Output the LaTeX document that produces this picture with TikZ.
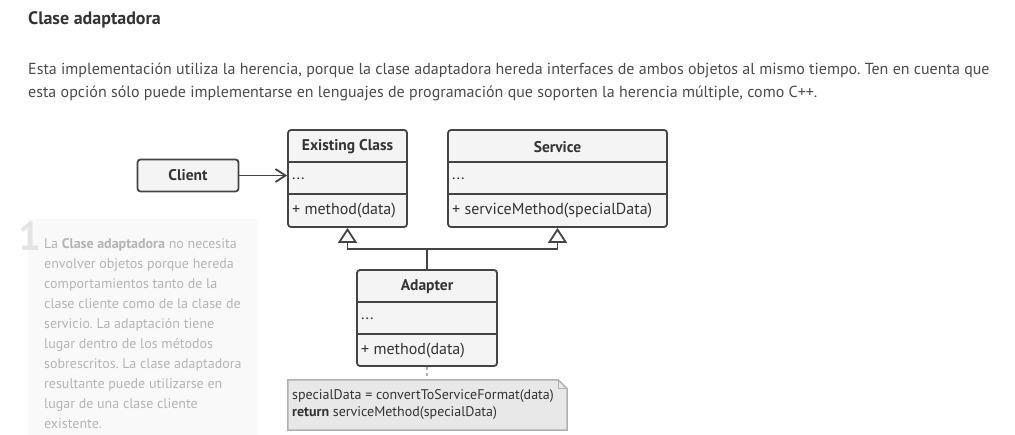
\documentclass[tikz,border=0pt]{standalone}
\usepackage{fontspec}
\setmainfont{PT Sans}
\usetikzlibrary{arrows.meta}
\frenchspacing

\definecolor{inkdark}{HTML}{333333}
\definecolor{inkbody}{HTML}{4A4A4A}
\definecolor{boxline}{HTML}{444444}
\definecolor{boxfill}{HTML}{F4F4F4}
\definecolor{sidebg}{HTML}{F9F9F9}
\definecolor{sideink}{HTML}{B4B4B4}
\definecolor{numink}{HTML}{E4E4E4}
\definecolor{notefill}{HTML}{E8E8E8}
\definecolor{noteline}{HTML}{B0B0B0}

\tikzset{
    classbox/.style={draw=boxline, fill=boxfill, line width=1.8pt, rounded corners=3pt, inner sep=0pt},
    divider/.style={draw=boxline, line width=1.8pt},
    classname/.style={font=\fontsize{15.5}{18}\selectfont\bfseries, text=inkdark, inner sep=0pt},
    member/.style={font=\fontsize{16}{18}\selectfont, text=inkdark, anchor=west, inner sep=0pt},
    assoc/.style={draw=boxline, line width=1.8pt, -{Straight Barb[length=10pt,width=13pt]}},
    inherit/.style={draw=boxline, line width=1.8pt, -{Triangle[open,length=15pt,width=19pt]}},
    notelink/.style={draw=noteline, line width=1.5pt, dash pattern=on 3pt off 3pt},
}

\begin{document}
\begin{tikzpicture}[x=1pt,y=-1pt]
    \useasboundingbox (0,0) rectangle (1015,435);

    % Heading and intro
    \node[anchor=west, inner sep=0pt, text=inkdark, font=\fontsize{18}{20}\selectfont\bfseries] (title) at (28,20) {Clase adaptadora};
    \node[anchor=west, inner sep=0pt, text=inkbody, align=left, font=\fontsize{16}{23}\selectfont] (intro) at (28,81.5)
        {Esta implementación utiliza la herencia, porque la clase adaptadora hereda interfaces de ambos objetos al mismo tiempo. Ten en cuenta que\\
         esta opción sólo puede implementarse en lenguajes de programación que soporten la herencia múltiple, como C++.};

    % Side note
    \fill[sidebg] (28,219) rectangle (258,435);
    \node[anchor=north west, inner sep=0pt, text=numink, font=\fontsize{40}{40}\selectfont\bfseries] (num) at (18,222) {1};
    \node[anchor=north west, inner sep=0pt, text=sideink, align=left, font=\fontsize{14}{20}\selectfont] (sidenote) at (44,238)
        {La \textbf{Clase adaptadora} no necesita\\
         envolver objetos porque hereda\\
         comportamientos tanto de la\\
         clase cliente como de la clase de\\
         servicio. La adaptación tiene\\
         lugar dentro de los métodos\\
         sobrescritos. La clase adaptadora\\
         resultante puede utilizarse en\\
         lugar de una clase cliente\\
         existente.};

    % Client
    \node[classbox, minimum width=101pt, minimum height=32pt] (client) at (188,175.5) {};
    \node[classname] (client-name) at (client) {Client};

    % Existing Class
    \node[classbox, minimum width=119pt, minimum height=97pt] (existing) at (347.5,178.5) {};
    \draw[divider] (288,162) -- (407,162);
    \draw[divider] (288,194) -- (407,194);
    \node[classname] (existing-name) at (347.5,147) {Existing Class};
    \node[member] (existing-attr) at (292,179) {...};
    \node[member] (existing-op) at (292,211) {+ method(data)};

    % Service
    \node[classbox, minimum width=219pt, minimum height=97pt] (service) at (557.5,178.5) {};
    \draw[divider] (448,162) -- (667,162);
    \draw[divider] (448,194) -- (667,194);
    \node[classname] (service-name) at (557.5,147) {Service};
    \node[member] (service-attr) at (452,179) {...};
    \node[member] (service-op) at (452,211) {+ serviceMethod(specialData)};

    % Adapter
    \node[classbox, minimum width=140pt, minimum height=96pt] (adapter) at (427,318) {};
    \draw[divider] (357,302) -- (497,302);
    \draw[divider] (357,334) -- (497,334);
    \node[classname] (adapter-name) at (427,287) {Adapter};
    \node[member] (adapter-attr) at (361,319) {...};
    \node[member] (adapter-op) at (361,351) {+ method(data)};

    % Note
    \node[minimum width=279pt, minimum height=50pt, inner sep=0pt] (note) at (427.5,405) {};
    \filldraw[fill=notefill, draw=noteline, line width=1.5pt]
        (note.south west) -- (note.north west) -- ([xshift=-9pt]note.north east)
        -- ([yshift=-9pt]note.north east) -- (note.south east) -- cycle;
    \draw[noteline, line width=1.2pt] ([xshift=-9pt]note.north east) -- ([xshift=-9pt,yshift=-9pt]note.north east) -- ([yshift=-9pt]note.north east);
    \node[anchor=west, inner sep=0pt, text=inkdark, align=left, font=\fontsize{14}{17}\selectfont] (note-text) at (292,405)
        {specialData = convertToServiceFormat(data)\\
         \textbf{return} serviceMethod(specialData)};

    % Connectors
    \draw[assoc] (client.east) -- (client.east -| existing.west);
    \draw[inherit] (adapter.north) -- ++(0,-20) -| (existing.south);
    \draw[inherit] (adapter.north) -- ++(0,-20) -| (service.south);
    \draw[notelink] (adapter.south) -- (note.north -| adapter.south);
\end{tikzpicture}
\end{document}
